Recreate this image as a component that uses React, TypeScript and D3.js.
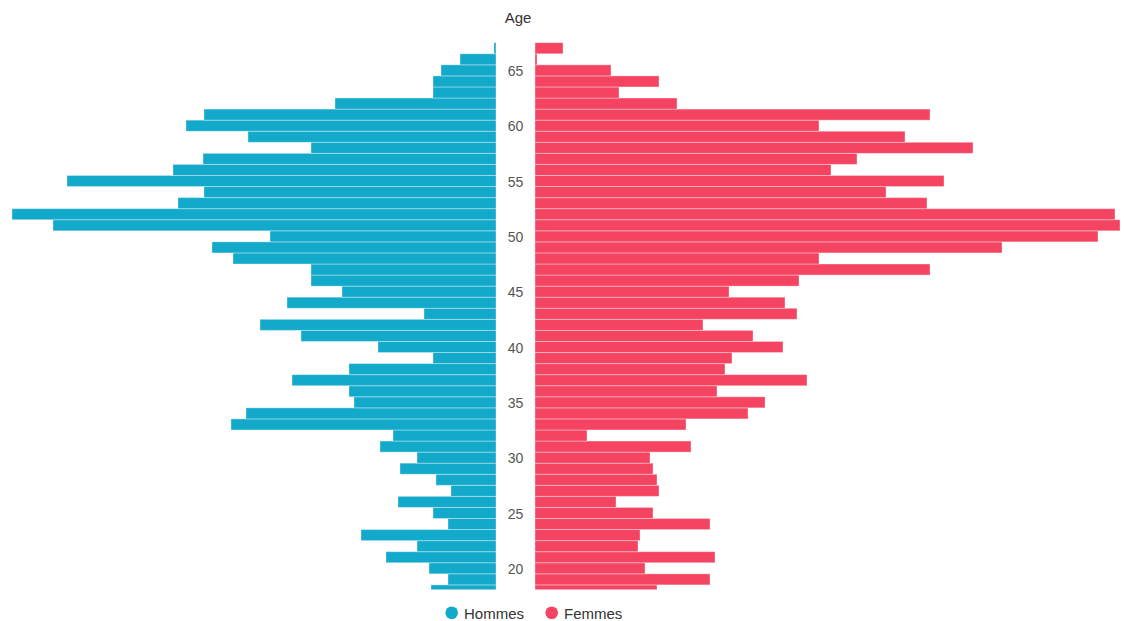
import React from "react";
import * as d3 from "d3";

const ages: number[] = d3.range(18, 68);
// values from age 18 to 67
const hommes: number[] = [
  65, 48, 67, 110, 79, 135, 48, 63, 98, 45,
  60, 96, 79, 116, 103, 265, 250, 142, 147, 204,
  147, 63, 118, 195, 236, 72, 209, 154, 185, 185,
  263, 284, 226, 443, 484, 318, 292, 429, 323, 293,
  185, 248, 310, 292, 161, 63, 63, 55, 36, 2,
];
const femmes: number[] = [
  122, 175, 110, 180, 103, 105, 175, 118, 81, 124,
  122, 118, 115, 156, 52, 151, 213, 230, 182, 272,
  190, 197, 248, 218, 168, 262, 250, 194, 264, 395,
  284, 467, 563, 585, 580, 392, 351, 409, 296, 322,
  438, 370, 284, 395, 142, 84, 124, 76, 2, 28,
];
const tickAges: number[] = [20, 25, 30, 35, 40, 45, 50, 55, 60, 65];
const seriesNames: string[] = ["Hommes", "Femmes"];

const W = 1124;
const H = 621;
const maleRight = 496;
const femaleLeft = 535;
const top = 42.7;
const step = 11.065;
const clipBottom = 589.5;
const colorH = "#13A9CB";
const colorF = "#F54461";
const font = "'Liberation Sans', Arial, sans-serif";

export default function App() {
  const y = d3
    .scaleBand<number>()
    .domain([...ages].reverse())
    .range([top, top + step * ages.length])
    .paddingInner(0)
    .paddingOuter(0);
  const maxV = d3.max([...hommes, ...femmes]) as number;
  const len = d3.scaleLinear().domain([0, maxV]).range([0, 585]);
  const bw = y.bandwidth();
  const labelX = (maleRight + femaleLeft) / 2;

  return (
    <svg
      width={W}
      height={H}
      style={{ position: "absolute", left: 0, top: 0, background: "#fff" }}
      fontFamily={font}
    >
      <defs>
        <clipPath id="plotclip">
          <rect x={0} y={top - 2} width={W} height={clipBottom - top + 2} />
        </clipPath>
      </defs>
      <g clipPath="url(#plotclip)">
        {ages.map((a, i) => (
          <rect
            key={"h" + a}
            x={maleRight - len(hommes[i])}
            y={y(a)!}
            width={len(hommes[i])}
            height={bw}
            fill={colorH}
            stroke="rgba(255,255,255,0.35)"
            strokeWidth={1}
          />
        ))}
        {ages.map((a, i) => (
          <rect
            key={"f" + a}
            x={femaleLeft}
            y={y(a)!}
            width={len(femmes[i])}
            height={bw}
            fill={colorF}
            stroke="rgba(255,255,255,0.35)"
            strokeWidth={1}
          />
        ))}
      </g>
      <text x={518} y={23} textAnchor="middle" fontSize={15} fill="#333">
        Age
      </text>
      {tickAges.map((a) => (
        <text
          key={"t" + a}
          x={labelX}
          y={(y(a) as number) + bw / 2 + 0.8}
          dy="0.35em"
          textAnchor="middle"
          fontSize={14}
          fill="#555"
        >
          {a}
        </text>
      ))}
      <g>
        <circle cx={451.7} cy={612.7} r={6.3} fill={colorH} />
        <text x={464} y={619.3} fontSize={15} fill="#333">
          {seriesNames[0]}
        </text>
        <circle cx={551.7} cy={612.7} r={6.3} fill={colorF} />
        <text x={564} y={619.3} fontSize={15} fill="#333">
          {seriesNames[1]}
        </text>
      </g>
    </svg>
  );
}
